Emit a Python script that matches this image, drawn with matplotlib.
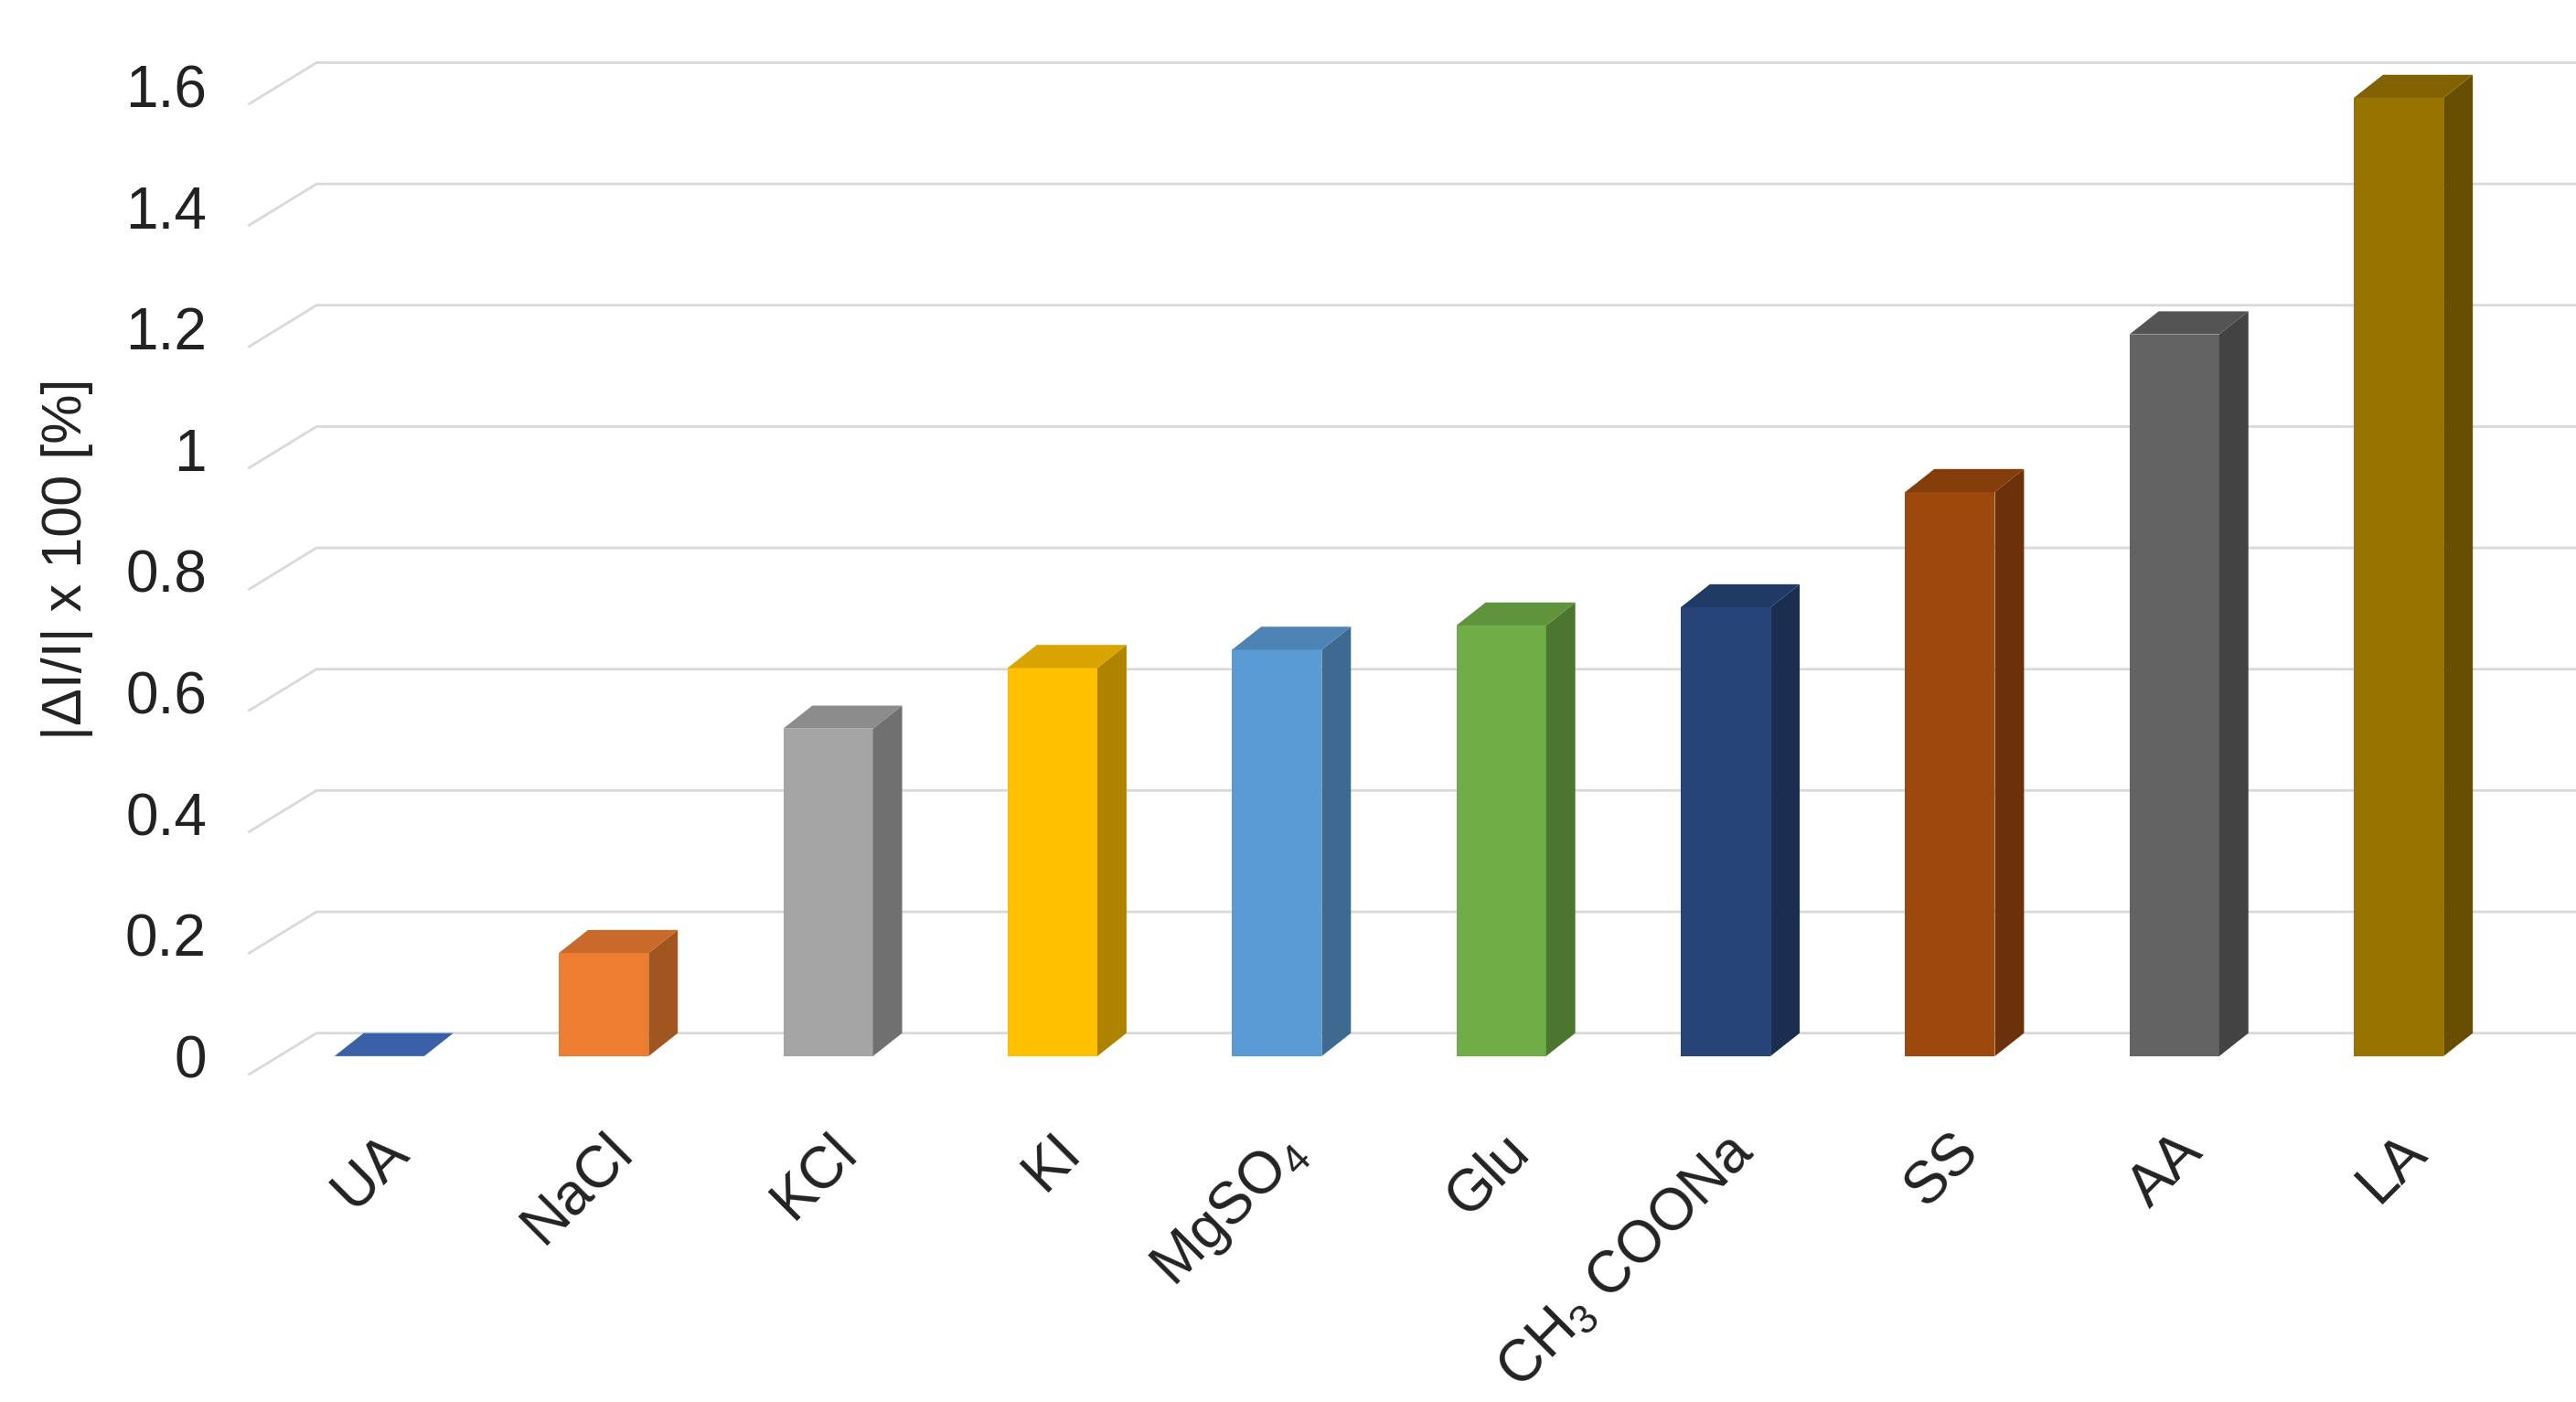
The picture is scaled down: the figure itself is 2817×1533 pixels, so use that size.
import matplotlib
matplotlib.use("Agg")
import matplotlib.pyplot as plt
from matplotlib.patches import Polygon
import matplotlib.colors as mc

categories = ["UA", "NaCl", "KCl", "KI", r"MgSO$_\mathregular{4}$", "Glu",
              r"CH$_\mathregular{3}$ COONa", "SS", "AA", "LA"]
values = [0.0, 0.17, 0.54, 0.64, 0.67, 0.71, 0.74, 0.93, 1.19, 1.58]
colors = ["#4472C4", "#ED7D31", "#A5A5A5", "#FFC000", "#5B9BD5", "#70AD47",
          "#264478", "#9E480E", "#636363", "#997300"]
yticks = [0, 0.2, 0.4, 0.6, 0.8, 1.0, 1.2, 1.4, 1.6]
yticklabels = ["0", "0.2", "0.4", "0.6", "0.8", "1", "1.2", "1.4", "1.6"]

plt.rcParams['font.family'] = ['Liberation Sans', 'DejaVu Sans']
fig = plt.figure(figsize=(28.17, 15.33), dpi=100)
ax = fig.add_axes([0.095, 0.235, 0.905, 0.732])
xmin, xmax = -0.6, 9.79
ax.set_xlim(xmin, xmax)
ax.set_ylim(-0.027, 1.665)
w = 0.4
dx, dy = 0.13, 0.038

def shade(c, f):
    r, g, b = mc.to_rgb(c)
    return (r * f, g * f, b * f)

for t in yticks:
    ax.plot([xmin + 0.02, xmin + 0.02 + 0.3, xmax], [t - 0.03, t + dy, t + dy],
            color="#d9d9d9", lw=2, zorder=0, clip_on=False)

for i, (v, c) in enumerate(zip(values, colors)):
    x0, x1 = i - w / 2, i + w / 2
    ax.bar(i, v, width=w, color=c, zorder=2, linewidth=0)
    ax.add_patch(Polygon([(x1, 0), (x1 + dx, dy), (x1 + dx, v + dy), (x1, v)],
                         closed=True, color=shade(c, 0.68), lw=0, zorder=2))
    ax.add_patch(Polygon([(x0, v), (x0 + dx, v + dy), (x1 + dx, v + dy), (x1, v)],
                         closed=True, color=shade(c, 0.85), lw=0, zorder=2))

ax.set_yticks(yticks)
ax.set_yticklabels(yticklabels, fontsize=46, color="#222222")
ax.set_xticks(range(len(categories)))
ax.set_xticklabels(categories, fontsize=46, rotation=45, ha="right",
                   rotation_mode="anchor", color="#222222")
ax.tick_params(axis="y", length=0, pad=30)
ax.tick_params(axis="x", length=0, pad=40)
for s in ax.spines.values():
    s.set_visible(False)
ax.set_ylabel("|ΔI/I| x 100 [%]", fontsize=44, color="#222222", labelpad=25)
fig.savefig("out.png", dpi=100)
